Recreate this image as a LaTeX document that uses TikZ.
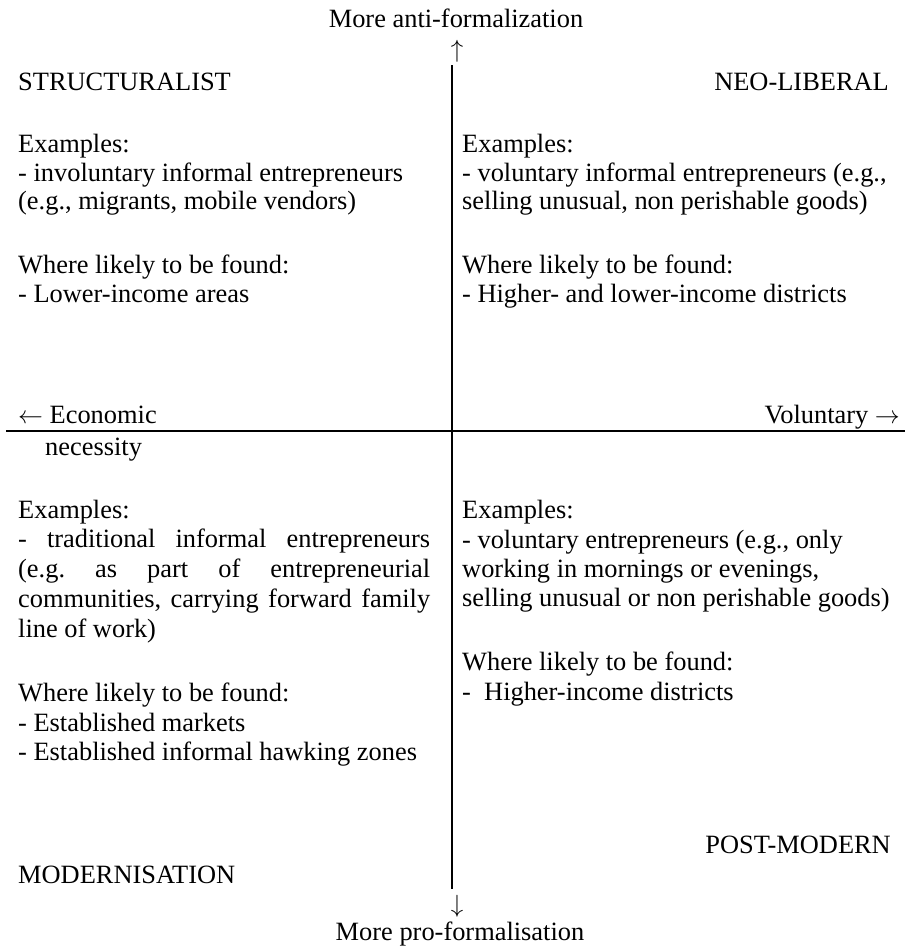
\documentclass[tikz,border=0pt]{standalone}
\usepackage{fontspec}
\setmainfont{Liberation Serif}
\frenchspacing
\newcommand{\bodyfont}{\fontsize{26.4}{30}\selectfont\frenchspacing}
\tikzset{
  txt/.style={inner sep=0pt, anchor=base west, font=\bodyfont},
  txtr/.style={inner sep=0pt, anchor=base east, font=\bodyfont},
  txtc/.style={inner sep=0pt, anchor=base, font=\bodyfont},
  axisline/.style={line width=2.4pt, black}
}
\begin{document}
\begin{tikzpicture}[x=1pt, y=-1pt]
\useasboundingbox (0,0) rectangle (905,946);
% axes
\coordinate (vt) at (452,65);
\coordinate (vb) at (452,889);
\coordinate (hl) at (6,431);
\coordinate (hr) at (905,431);
\draw[axisline] (vt) -- (vb);
\draw[axisline] (hl) -- (hr);
% axis labels
\node[txtc] (topl) at (456,27) {More anti-formalization};
\node[txtc] (uparr) at (457,57) {$\uparrow$};
\node[txtc] (downarr) at (457,912) {$\downarrow$};
\node[txtc] (botl) at (460,940) {More pro-formalisation};
\node[txt] (econ) at (18,423) {$\leftarrow$ Economic};
\node[txt] (necess) at (45,455) {necessity};
\node[txtr] (volun) at (900,423) {Voluntary $\rightarrow$};
% quadrant titles
\node[txt] (struct) at (18,90) {STRUCTURALIST};
\node[txtr] (neolib) at (889,90) {NEO-LIBERAL};
\node[txtr] (postmod) at (891,853) {POST-MODERN};
\node[txt] (modern) at (18,883) {MODERNISATION};
% top-left
\node[txt] (tl1) at (18,152) {Examples:};
\node[txt] (tl2) at (18,181) {- involuntary informal entrepreneurs};
\node[txt] (tl3) at (18,209) {(e.g., migrants, mobile vendors)};
\node[txt] (tl4) at (18,273) {Where likely to be found:};
\node[txt] (tl5) at (18,302) {- Lower-income areas};
% top-right
\node[txt] (tr1) at (462,152) {Examples:};
\node[txt] (tr2) at (462,181) {- voluntary informal entrepreneurs (e.g.,};
\node[txt] (tr3) at (462,209) {selling unusual, non perishable goods)};
\node[txt] (tr4) at (462,273) {Where likely to be found:};
\node[txt] (tr5) at (462,302) {- Higher- and lower-income districts};
% bottom-left
\node[txt] (bl1) at (18,518) {Examples:};
\node[txt] (bl2) at (18,547) {\makebox[412pt][s]{- traditional informal entrepreneurs}};
\node[txt] (bl3) at (18,577) {\makebox[412pt][s]{(e.g. as part of entrepreneurial}};
\node[txt] (bl4) at (18,607) {\makebox[412pt][s]{communities, carrying forward family}};
\node[txt] (bl5) at (18,637) {line of work)};
\node[txt] (bl6) at (18,701) {Where likely to be found:};
\node[txt] (bl7) at (18,731) {- Established markets};
\node[txt] (bl8) at (18,760) {- Established informal hawking zones};
% bottom-right
\node[txt] (br1) at (462,518) {Examples:};
\node[txt] (br2) at (462,548) {- voluntary entrepreneurs (e.g., only};
\node[txt] (br3) at (462,577) {working in mornings or evenings,};
\node[txt] (br4) at (462,606) {selling unusual or non perishable goods)};
\node[txt] (br5) at (462,670) {Where likely to be found:};
\node[txt] (br6) at (462,700) {-~ Higher-income districts};
\end{tikzpicture}
\end{document}
